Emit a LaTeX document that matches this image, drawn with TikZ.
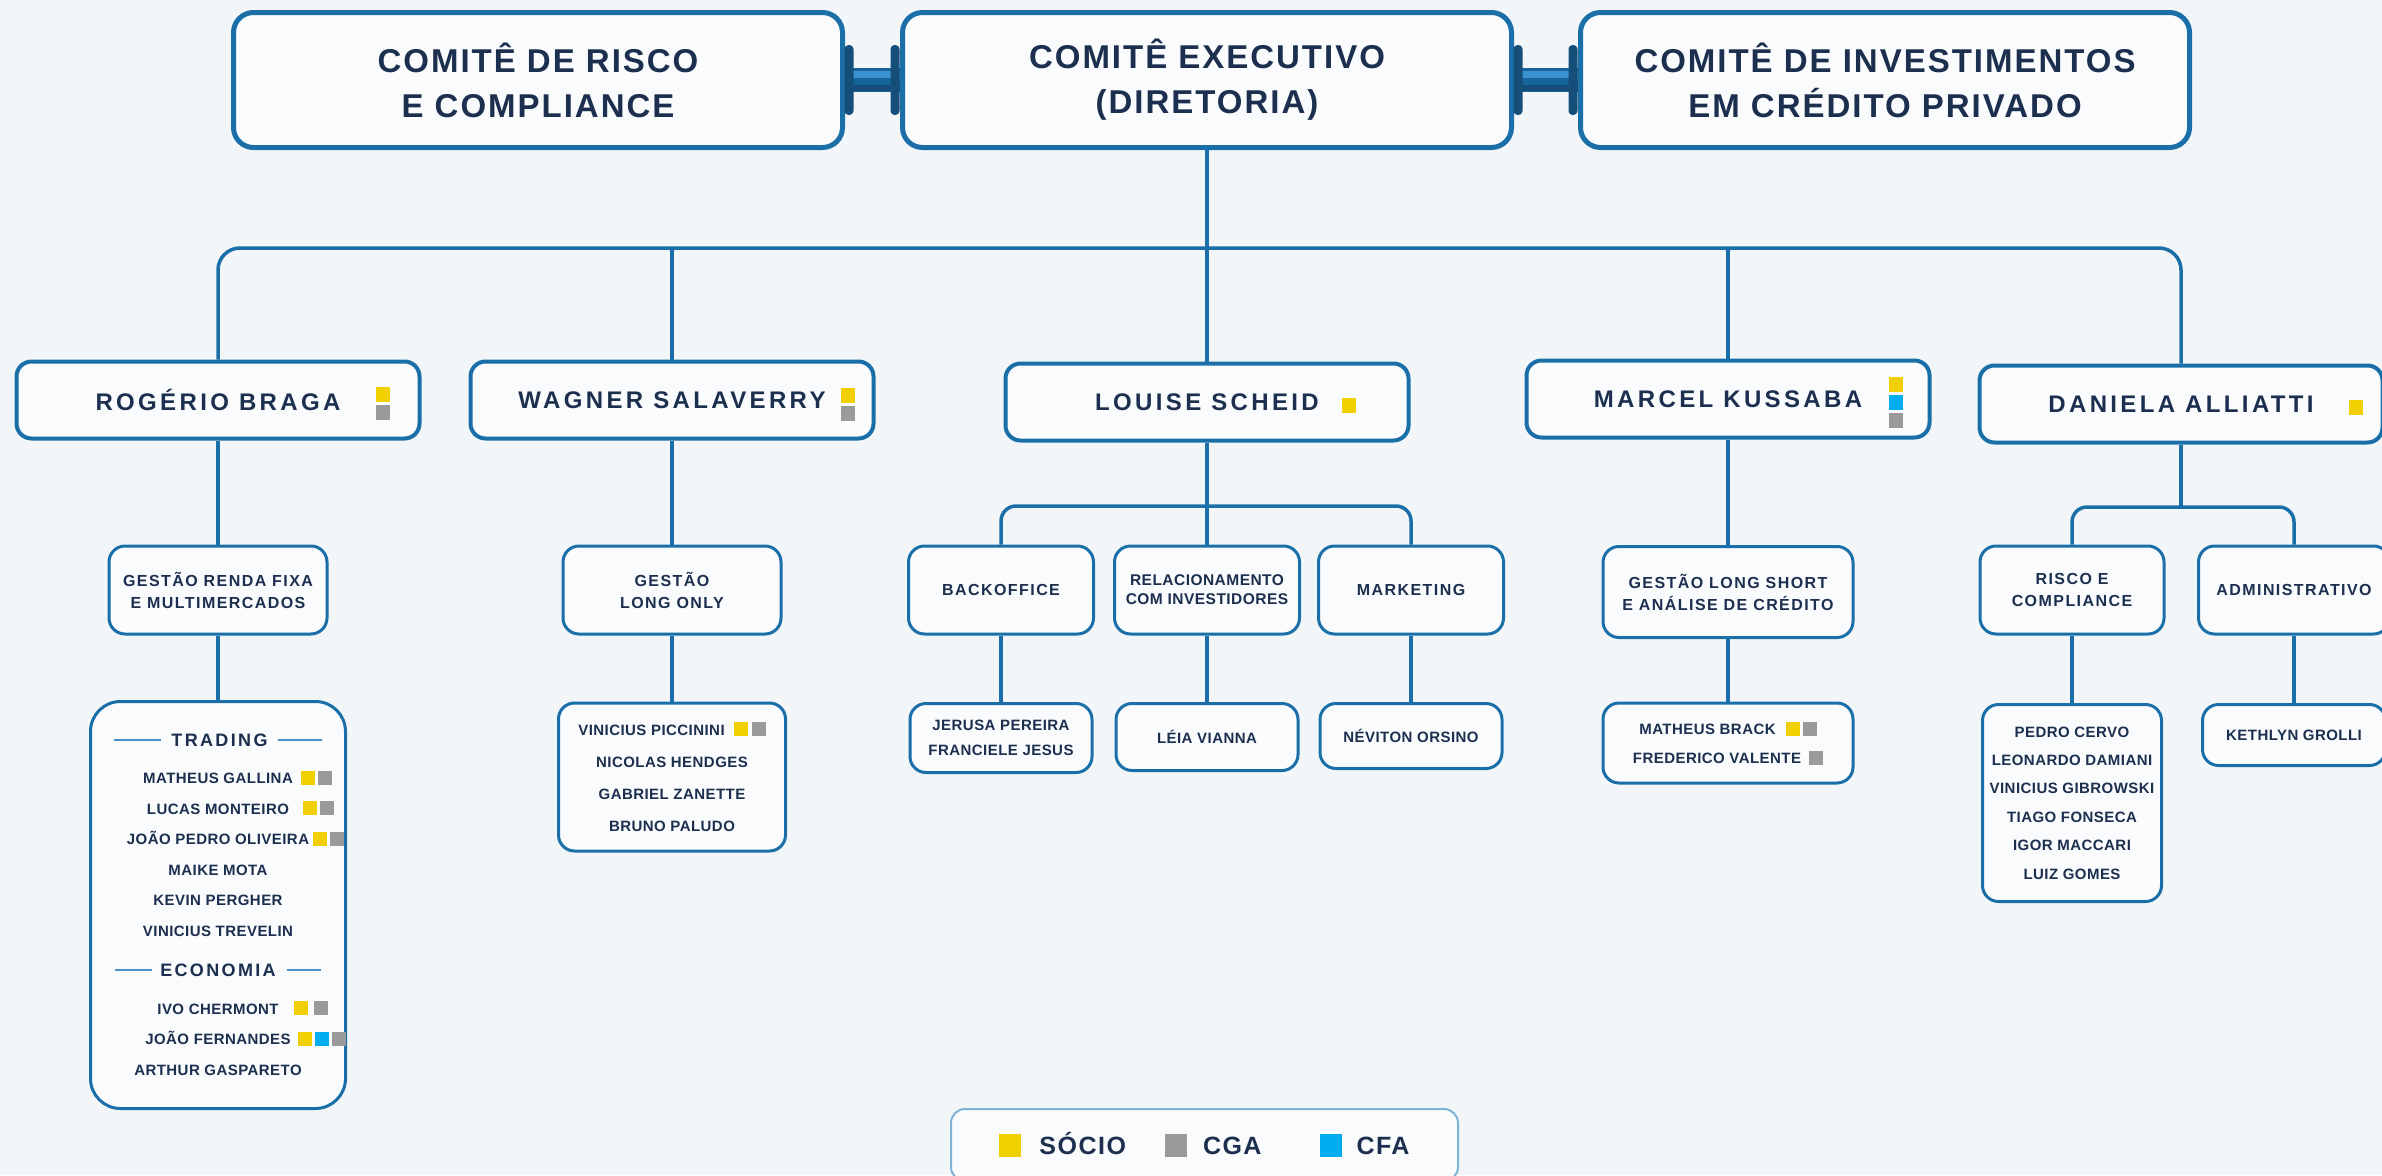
\documentclass[tikz,border=0pt]{standalone}
\usepackage{fontspec}
\setmainfont{Liberation Sans}
\newfontfamily\topfont[LetterSpace=6]{Liberation Sans}
\newfontfamily\headfont[LetterSpace=14]{Liberation Sans}
\newfontfamily\deptfont[LetterSpace=9]{Liberation Sans}
\newfontfamily\teamfont[LetterSpace=3]{Liberation Sans}
\newfontfamily\secfont[LetterSpace=13]{Liberation Sans}
\usepackage{xcolor}
\usepackage{tikz}
\usetikzlibrary{positioning}

\definecolor{navy}{HTML}{1C2F4E}
\definecolor{linkblue}{HTML}{1B6FA8}
\definecolor{rodblue}{HTML}{17649A}
\definecolor{rodlight}{HTML}{3A93CF}
\definecolor{capblue}{HTML}{164E7A}
\definecolor{soc}{HTML}{F0D000}
\definecolor{cga}{HTML}{9A9A9A}
\definecolor{cfa}{HTML}{00AEEF}
\definecolor{bgcol}{HTML}{F3F6F9}
\definecolor{boxfill}{HTML}{F9FBFD}
\definecolor{legline}{HTML}{7FB3D8}
\definecolor{secline}{HTML}{4A93C8}

\newcommand{\badge}[1]{\textcolor{#1}{\rule[-1pt]{14pt}{14pt}}}
\newcommand{\legsq}[1]{\textcolor{#1}{\rule[-2.5pt]{22pt}{23pt}}}
\newcommand{\secrule}[1]{\textcolor{secline}{\rule[0.33em]{#1}{1.6pt}}}

\begin{document}
\begin{tikzpicture}[
    x=1pt, y=-1pt,
    committee/.style={
      draw=linkblue, line width=5pt, rounded corners=20pt, fill=boxfill,
      minimum width=609pt, minimum height=135pt, inner sep=0pt,
      align=center, text=navy,
      font=\topfont\bfseries\fontsize{33}{45}\selectfont
    },
    headbox/.style={
      draw=linkblue, line width=4pt, rounded corners=15pt, fill=boxfill,
      minimum width=403pt, minimum height=77pt, inner sep=0pt, text=navy,
      font=\headfont\bfseries\fontsize{24}{28}\selectfont
    },
    deptbox/.style={
      draw=linkblue, line width=3pt, rounded corners=16pt, fill=boxfill,
      minimum height=88pt, inner sep=0pt, align=center, text=navy,
      font=\deptfont\bfseries\fontsize{16}{22}\selectfont
    },
    teambox/.style={
      draw=linkblue, line width=3pt, rounded corners=16pt, fill=boxfill,
      inner sep=0pt, align=center, text=navy,
      font=\teamfont\bfseries\fontsize{15}{29}\selectfont
    },
    tagbox/.style={minimum width=14pt, minimum height=15pt, inner sep=0pt},
    wire/.style={draw=linkblue, line width=3.5pt},
    rod/.style={line width=24pt, draw=rodblue},
    rodcap/.style={fill=capblue, rounded corners=4pt,
      minimum width=9pt, minimum height=70pt, inner sep=0pt}
]

% --- Background ---
\fill[bgcol] (0,0) rectangle (2382,1175);
\useasboundingbox (0,0) rectangle (2382,1175);

% --- Committees ---
\node[committee] (riskcom) at (538,80) {COMITÊ DE RISCO\\E COMPLIANCE};
\node[committee] (execcom) at (1207,80) {COMITÊ EXECUTIVO\\(DIRETORIA)};
\node[committee] (invcom) at (1885,80) {COMITÊ DE INVESTIMENTOS\\EM CRÉDITO PRIVADO};

\draw[rod] (riskcom.east) -- (execcom.west);
\draw[rod] (execcom.east) -- (invcom.west);
\draw[line width=7pt, rodlight] ([yshift=6pt]riskcom.east) -- ([yshift=6pt]execcom.west);
\draw[line width=7pt, rodlight] ([yshift=6pt]execcom.east) -- ([yshift=6pt]invcom.west);
\draw[line width=6pt, capblue] ([yshift=-8pt]riskcom.east) -- ([yshift=-8pt]execcom.west);
\draw[line width=6pt, capblue] ([yshift=-8pt]execcom.east) -- ([yshift=-8pt]invcom.west);
\node[rodcap] (riskcap) at ([xshift=4pt]riskcom.east) {};
\node[rodcap] (execcapl) at ([xshift=-5pt]execcom.west) {};
\node[rodcap] (execcapr) at ([xshift=4pt]execcom.east) {};
\node[rodcap] (invcap) at ([xshift=-5pt]invcom.west) {};

% --- Partners ---
\node[headbox] (rogerio) at (218,400) {ROGÉRIO BRAGA};
\node[headbox] (wagner) at (672,400) {WAGNER SALAVERRY};
\node[headbox] (louise) at (1207,402) {LOUISE SCHEID};
\node[headbox] (marcel) at (1728,399) {MARCEL KUSSABA};
\node[headbox] (daniela) at (2181,404) {DANIELA ALLIATTI};

\node[tagbox, fill=soc] (rogerioa) at (382.5,394.5) {};
\node[tagbox, fill=cga] (rogeriob) at (382.5,412) {};
\node[tagbox, fill=soc] (wagnera) at (848,395) {};
\node[tagbox, fill=cga] (wagnerb) at (848,413) {};
\node[tagbox, fill=soc] (louisea) at (1349,405.5) {};
\node[tagbox, fill=soc] (marcela) at (1896,384.5) {};
\node[tagbox, fill=cfa] (marcelb) at (1896,402.5) {};
\node[tagbox, fill=cga] (marcelc) at (1896,420.5) {};
\node[tagbox, fill=soc] (danielaa) at (2355.5,407.5) {};

\coordinate (bus) at (1207,248);
\draw[wire, rounded corners=22pt] (rogerio.north) |- (bus) -| (daniela.north);
\draw[wire] (wagner.north) -- (wagner.north |- bus);
\draw[wire] (marcel.north) -- (marcel.north |- bus);
\draw[wire] (execcom.south) -- (louise.north);

% --- Areas ---
\node[deptbox, minimum width=218pt] (rendafixa) at (218,590) {GESTÃO RENDA FIXA\\E MULTIMERCADOS};
\node[deptbox, minimum width=218pt] (longonly) at (672,590) {GESTÃO\\LONG ONLY};
\node[deptbox, minimum width=185pt] (backoffice) at (1001,590) {BACKOFFICE};
\node[deptbox, minimum width=185pt,
  font=\teamfont\bfseries\fontsize{15.5}{19}\selectfont] (relac) at (1207,590) {RELACIONAMENTO\\COM INVESTIDORES};
\node[deptbox, minimum width=185pt] (marketing) at (1411,590) {MARKETING};
\node[deptbox, minimum width=250pt, minimum height=91pt] (longshort) at (1728,592) {GESTÃO LONG SHORT\\E ANÁLISE DE CRÉDITO};
\node[deptbox, minimum width=184pt] (riskdept) at (2072,590) {RISCO E\\COMPLIANCE};
\node[deptbox, minimum width=191pt] (admin) at (2294,590) {ADMINISTRATIVO};

\coordinate (lbus) at (1207,506);
\coordinate (dbus) at (2181,507);
\draw[wire] (rogerio.south) -- (rendafixa.north);
\draw[wire] (wagner.south) -- (longonly.north);
\draw[wire] (louise.south) -- (relac.north);
\draw[wire, rounded corners=15pt] (backoffice.north) |- (lbus) -| (marketing.north);
\draw[wire] (marcel.south) -- (longshort.north);
\draw[wire] (daniela.south) -- (dbus);
\draw[wire, rounded corners=15pt] (riskdept.north) |- (dbus) -| (admin.north);

% --- Teams ---
\node[teambox, minimum width=255pt, minimum height=407pt, rounded corners=30pt,
  font=\teamfont\bfseries\fontsize{15}{30.5}\selectfont] (tradingteam) at (218,905) {%
  {\secfont\fontsize{18}{18}\selectfont\secrule{47pt}\hspace{10pt}TRADING\hspace{10pt}\secrule{44pt}}\\[6.5pt]
  MATHEUS GALLINA\rlap{\hspace{8pt}\badge{soc}\hspace{3pt}\badge{cga}}\\
  LUCAS MONTEIRO\rlap{\hspace{14pt}\badge{soc}\hspace{3pt}\badge{cga}}\\
  JOÃO PEDRO OLIVEIRA\rlap{\hspace{4pt}\badge{soc}\hspace{3pt}\badge{cga}}\\
  MAIKE MOTA\\
  KEVIN PERGHER\\
  VINICIUS TREVELIN\\[9.5pt]
  {\secfont\fontsize{18}{18}\selectfont\secrule{37pt}\hspace{8pt}ECONOMIA\hspace{11pt}\secrule{34pt}}\\[7.5pt]
  IVO CHERMONT\rlap{\hspace{15pt}\badge{soc}\hspace{6pt}\badge{cga}}\\
  JOÃO FERNANDES\rlap{\hspace{7pt}\badge{soc}\hspace{3pt}\badge{cfa}\hspace{3pt}\badge{cga}}\\
  ARTHUR GASPARETO};
\node[teambox, minimum width=227pt, minimum height=148pt,
  font=\teamfont\bfseries\fontsize{15}{32}\selectfont] (longonlyteam) at (672,777) {%
  VINICIUS PICCININI\hspace{9pt}\badge{soc}\hspace{4pt}\badge{cga}\\
  NICOLAS HENDGES\\GABRIEL ZANETTE\\BRUNO PALUDO};
\node[teambox, minimum width=182pt, minimum height=69pt,
  font=\teamfont\bfseries\fontsize{15}{25}\selectfont] (backofficeteam) at (1001,738) {JERUSA PEREIRA\\FRANCIELE JESUS};
\node[teambox, minimum width=182pt, minimum height=67pt] (relacteam) at (1207,737) {LÉIA VIANNA};
\node[teambox, minimum width=182pt, minimum height=65pt] (marketingteam) at (1411,736) {NÉVITON ORSINO};
\node[teambox, minimum width=250pt, minimum height=80pt] (longshortteam) at (1728,743) {%
  MATHEUS BRACK\hspace{10pt}\badge{soc}\hspace{3pt}\badge{cga}\\
  FREDERICO VALENTE\hspace{8pt}\badge{cga}};
\node[teambox, minimum width=179pt, minimum height=197pt,
  font=\teamfont\bfseries\fontsize{15}{28.4}\selectfont] (riskteam) at (2072,803) {%
  PEDRO CERVO\\LEONARDO DAMIANI\\VINICIUS GIBROWSKI\\TIAGO FONSECA\\IGOR MACCARI\\LUIZ GOMES};
\node[teambox, minimum width=183pt, minimum height=61pt] (adminteam) at (2294,735) {KETHLYN GROLLI};

\draw[wire] (rendafixa.south) -- (tradingteam.north);
\draw[wire] (longonly.south) -- (longonlyteam.north);
\draw[wire] (backoffice.south) -- (backofficeteam.north);
\draw[wire] (relac.south) -- (relacteam.north);
\draw[wire] (marketing.south) -- (marketingteam.north);
\draw[wire] (longshort.south) -- (longshortteam.north);
\draw[wire] (riskdept.south) -- (riskteam.north);
\draw[wire] (admin.south) -- (adminteam.north);

% --- Legend ---
\node[draw=legline, line width=2pt, rounded corners=14pt, fill=boxfill,
  minimum width=507pt, minimum height=72pt, inner sep=0pt, text=navy,
  font=\topfont\bfseries\fontsize{25}{30}\selectfont] (legend) at (1204.5,1145) {%
  \legsq{soc}\hspace{18pt}SÓCIO\hspace{39pt}\legsq{cga}\hspace{16pt}CGA\hspace{58pt}\legsq{cfa}\hspace{15pt}CFA};

\end{tikzpicture}
\end{document}
